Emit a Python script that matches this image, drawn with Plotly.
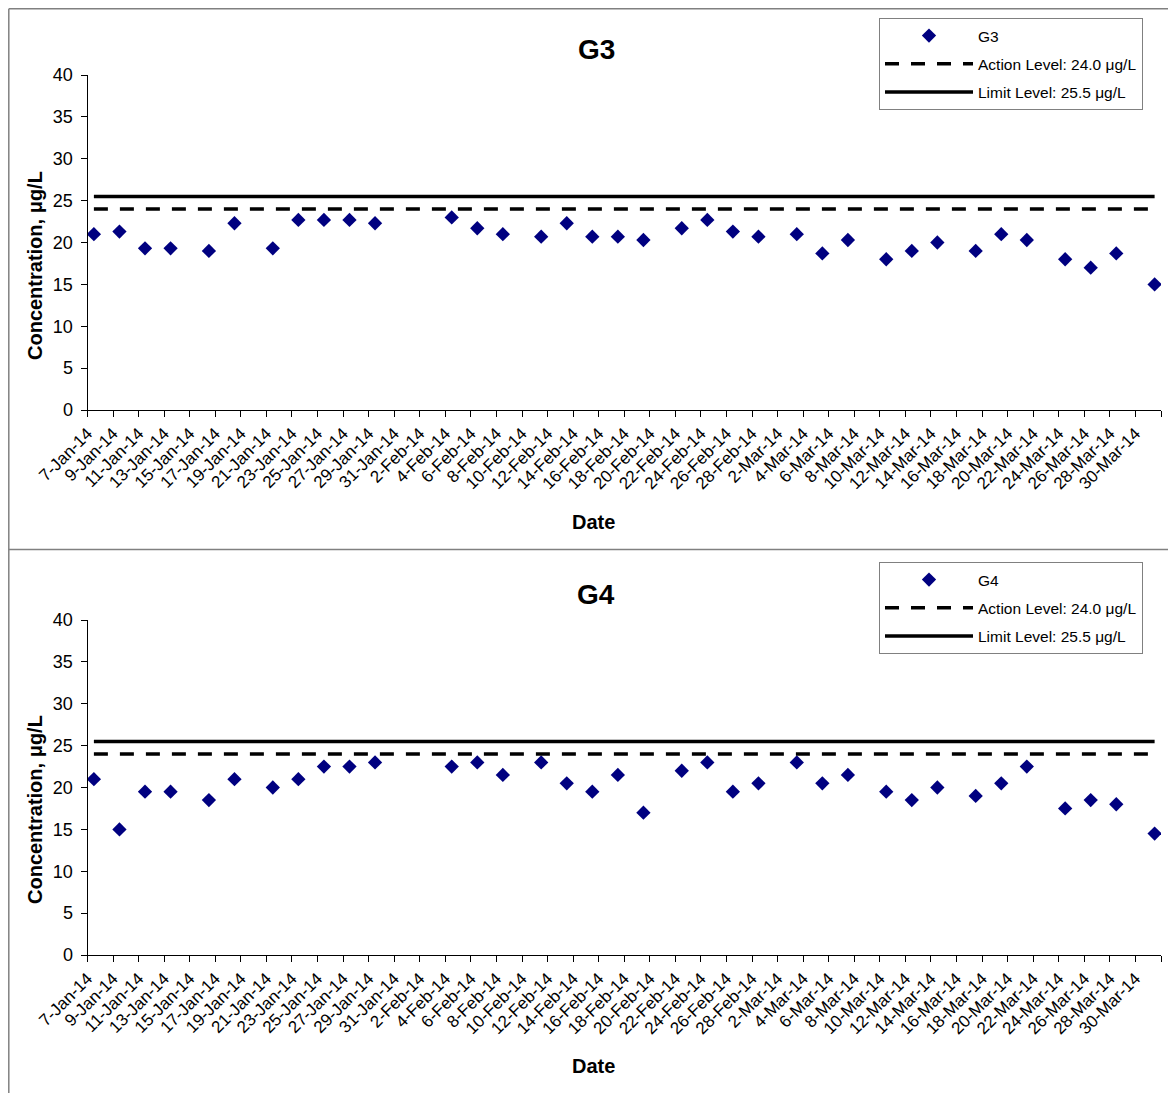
import pandas as pd
import plotly.graph_objects as go

# ---------------- data ----------------
dates = ["2014-01-07", "2014-01-09", "2014-01-11", "2014-01-13", "2014-01-16",
         "2014-01-18", "2014-01-21", "2014-01-23", "2014-01-25", "2014-01-27",
         "2014-01-29", "2014-02-04", "2014-02-06", "2014-02-08", "2014-02-11",
         "2014-02-13", "2014-02-15", "2014-02-17", "2014-02-19", "2014-02-22",
         "2014-02-24", "2014-02-26", "2014-02-28", "2014-03-03", "2014-03-05",
         "2014-03-07", "2014-03-10", "2014-03-12", "2014-03-14", "2014-03-17",
         "2014-03-19", "2014-03-21", "2014-03-24", "2014-03-26", "2014-03-28",
         "2014-03-31"]
g3 = [21.0, 21.3, 19.3, 19.3, 19.0, 22.3, 19.3, 22.7, 22.7, 22.7,
      22.3, 23.0, 21.7, 21.0, 20.7, 22.3, 20.7, 20.7, 20.3, 21.7,
      22.7, 21.3, 20.7, 21.0, 18.7, 20.3, 18.0, 19.0, 20.0, 19.0,
      21.0, 20.3, 18.0, 17.0, 18.7, 15.0]
g4 = [21.0, 15.0, 19.5, 19.5, 18.5, 21.0, 20.0, 21.0, 22.5, 22.5,
      23.0, 22.5, 23.0, 21.5, 23.0, 20.5, 19.5, 21.5, 17.0, 22.0,
      23.0, 19.5, 20.5, 23.0, 20.5, 21.5, 19.5, 18.5, 20.0, 19.0,
      20.5, 22.5, 17.5, 18.5, 18.0, 14.5]
action_level = 24.0
limit_level = 25.5
tick_labels = ["7-Jan-14", "9-Jan-14", "11-Jan-14", "13-Jan-14", "15-Jan-14",
               "17-Jan-14", "19-Jan-14", "21-Jan-14", "23-Jan-14", "25-Jan-14",
               "27-Jan-14", "29-Jan-14", "31-Jan-14", "2-Feb-14", "4-Feb-14",
               "6-Feb-14", "8-Feb-14", "10-Feb-14", "12-Feb-14", "14-Feb-14",
               "16-Feb-14", "18-Feb-14", "20-Feb-14", "22-Feb-14", "24-Feb-14",
               "26-Feb-14", "28-Feb-14", "2-Mar-14", "4-Mar-14", "6-Mar-14",
               "8-Mar-14", "10-Mar-14", "12-Mar-14", "14-Mar-14", "16-Mar-14",
               "18-Mar-14", "20-Mar-14", "22-Mar-14", "24-Mar-14", "26-Mar-14",
               "28-Mar-14", "30-Mar-14"]
y_ticks = [0, 5, 10, 15, 20, 25, 30, 35, 40]

# ---------------- layout helpers ----------------
# the page body has an 8px margin, so the figure starts at (8, 8) in the window
OFF = 8
W, H = 1176 - OFF, 1093 - OFF
FONT = "Liberation Sans, Arial, sans-serif"
NAVY = "#000080"


def px(x):
    return (x - OFF) / W


def py(y):
    return 1 - (y - OFF) / H


half_day = pd.Timedelta(hours=12)
x_start = pd.Timestamp(dates[0]) - half_day
x_end = pd.Timestamp(dates[-1]) + half_day
tick_vals = list(pd.to_datetime(tick_labels, format="%d-%b-%y") - half_day) + [x_end]
tick_text = tick_labels + [""]

fig = go.Figure()

panels = [
    dict(name="G3", vals=g3, xa="x", ya="y", legend="legend"),
    dict(name="G4", vals=g4, xa="x2", ya="y2", legend="legend2"),
]

for p in panels:
    fig.add_trace(go.Scatter(
        x=dates, y=p["vals"], mode="markers", name=p["name"],
        marker=dict(symbol="diamond", size=11, color=NAVY),
        xaxis=p["xa"], yaxis=p["ya"], legend=p["legend"],
        legendgroup=p["name"] + "a",
    ))
    fig.add_trace(go.Scatter(
        x=dates, y=[action_level] * len(dates), mode="lines",
        name="Action Level: 24.0 μg/L",
        line=dict(color="black", width=3.5, dash="14px,12px"),
        xaxis=p["xa"], yaxis=p["ya"], legend=p["legend"],
        legendgroup=p["name"] + "b",
    ))
    fig.add_trace(go.Scatter(
        x=dates, y=[limit_level] * len(dates), mode="lines",
        name="Limit Level: 25.5 μg/L",
        line=dict(color="black", width=3.5),
        xaxis=p["xa"], yaxis=p["ya"], legend=p["legend"],
        legendgroup=p["name"] + "c",
    ))

x_dom = [px(87.5), px(1161)]
top_dom = [py(410), py(75)]
bot_dom = [py(955), py(620)]

xaxis_common = dict(
    type="date", range=[x_start, x_end], tickmode="array",
    tickvals=tick_vals, ticktext=tick_text, tickangle=-45,
    tickfont=dict(family=FONT, size=17, color="black"),
    showline=True, linecolor="black", linewidth=1,
    ticks="outside", ticklen=6, tickcolor="black",
    showgrid=False, zeroline=False, automargin=False, domain=x_dom,
)
yaxis_common = dict(
    range=[0, 40], tickmode="array", tickvals=y_ticks,
    tickfont=dict(family=FONT, size=18, color="black"),
    showline=True, linecolor="black", linewidth=1,
    ticks="outside", ticklen=6, tickcolor="black", ticklabelstandoff=4,
    showgrid=False, zeroline=False, automargin=False,
)

legend_common = dict(
    bgcolor="white", bordercolor="#808080", borderwidth=1,
    font=dict(family=FONT, size=15.5, color="black"),
    xanchor="left", yanchor="top", x=px(879),
    itemwidth=88, traceorder="grouped", tracegroupgap=5,
)

title_font = dict(family=FONT, size=28, color="black", weight="bold")
axis_title_font = dict(family=FONT, size=20, color="black", weight="bold")

annotations = []
for ttl, ty, xty, yty in [("G3", 50, 522, 266), ("G4", 594, 1066, 810)]:
    annotations.append(dict(text=ttl, x=px(596), y=py(ty), xref="paper", yref="paper",
                            showarrow=False, font=title_font,
                            xanchor="center", yanchor="middle"))
    annotations.append(dict(text="Date", x=px(593), y=py(xty), xref="paper", yref="paper",
                            showarrow=False, font=axis_title_font,
                            xanchor="center", yanchor="middle"))
    annotations.append(dict(text="Concentration, μg/L", x=px(35), y=py(yty),
                            xref="paper", yref="paper", textangle=-90,
                            showarrow=False, font=axis_title_font,
                            xanchor="center", yanchor="middle"))

frame = dict(type="line", xref="paper", yref="paper",
             line=dict(color="#808080", width=1.5), layer="above")
shapes = [
    dict(frame, x0=px(8.8), x1=px(8.8), y0=py(8.8), y1=0),
    dict(frame, x0=px(8.8), x1=1, y0=py(8.8), y1=py(8.8)),
    dict(frame, x0=px(8.8), x1=1, y0=py(549.5), y1=py(549.5)),
]

fig.update_layout(
    width=W, height=H,
    margin=dict(l=0, r=0, t=0, b=0),
    paper_bgcolor="white", plot_bgcolor="white",
    font=dict(family=FONT, color="black"),
    xaxis=dict(xaxis_common, anchor="y"),
    yaxis=dict(yaxis_common, domain=top_dom, anchor="x"),
    xaxis2=dict(xaxis_common, anchor="y2"),
    yaxis2=dict(yaxis_common, domain=bot_dom, anchor="x2"),
    legend=dict(legend_common, y=py(18)),
    legend2=dict(legend_common, y=py(562)),
    annotations=annotations,
    shapes=shapes,
    showlegend=True,
)

fig.write_html("out.html")
